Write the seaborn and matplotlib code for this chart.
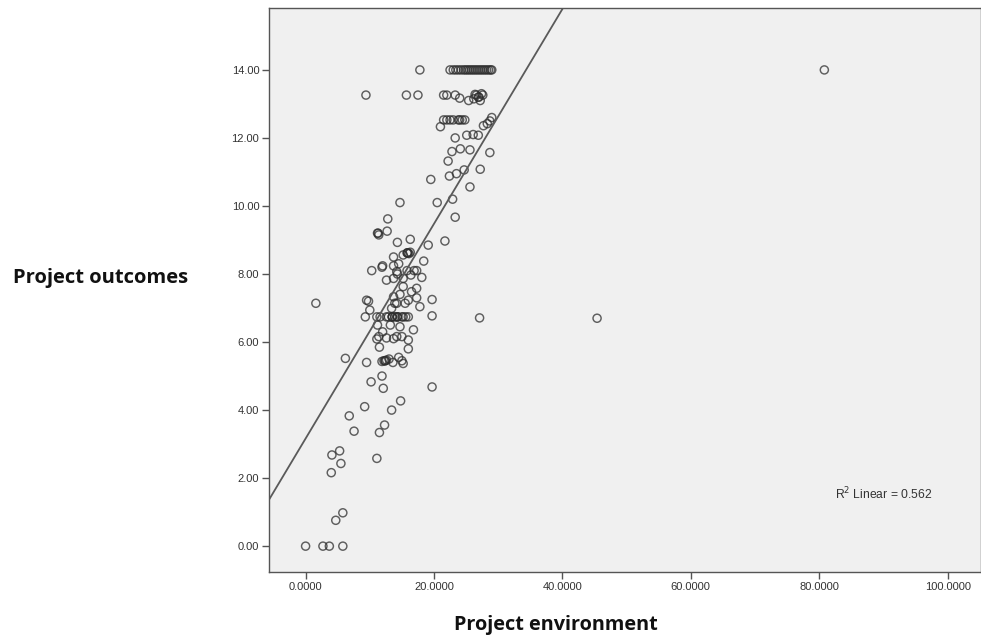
import numpy as np
import pandas as pd
import matplotlib
matplotlib.use("Agg")
import matplotlib.pyplot as plt
import seaborn as sns

# Project environment (x) and project outcomes (y)
# (darker spots in the reference hold overlapping, repeated cases)
env = [
    0.0, 2.7, 3.7, 5.8, 4.7, 5.8, 4.0, 4.1, 5.3, 5.5, 11.1,
    6.8, 7.55, 9.2, 11.5, 12.3, 13.4, 14.8,
    10.2, 11.9, 12.1, 19.7,
    6.2, 9.5, 11.9, 12.6, 13.6, 14.5, 15.2, 12.2, 13.0, 15.0, 12.4, 12.4,
    11.5, 16.0,
    11.1, 12.6, 13.7, 15.0, 16.0, 14.2, 11.4,
    11.2, 13.2, 14.7, 16.8, 12.0,
    9.3, 11.1, 11.6, 12.6, 13.5, 13.9, 14.3, 15.0, 15.2, 16.0, 19.7, 27.1, 45.4,
    13.5, 13.5, 14.3, 14.3, 12.9, 15.6,
    10.0, 13.4, 17.8, 13.9, 14.2, 15.5, 1.6,
    9.8, 9.5, 16.0, 19.7, 13.7, 14.7, 17.3, 16.5,
    15.2, 17.3,
    12.6, 13.7, 15.2, 16.4, 18.1, 14.3,
    10.3, 11.9, 14.2, 15.8, 16.9, 17.3, 12.0, 13.7, 14.5,
    18.4, 13.7, 15.2, 15.8, 16.1, 16.3, 15.9, 15.9,
    19.1, 14.3, 16.3, 21.7,
    11.2, 11.4, 12.7, 11.3,
    12.8, 23.3,
    14.7, 20.5, 22.9,
    25.6,
    19.5, 22.4, 23.5, 24.7, 27.2,
    22.2,
    22.8, 24.1, 25.6, 28.7,
    23.3, 25.1, 26.1, 26.9,
    21.0, 27.7, 28.7, 29.0, 21.5, 22.5, 23.0, 23.8, 24.4, 24.8, 28.3, 22.0, 24.0,
    9.4, 15.7, 17.5, 21.5, 22.0, 23.3, 24.0, 25.4, 26.4, 26.9, 27.4, 27.2, 26.2,
    26.6, 27.0, 27.6,
    17.8, 22.5, 23.4, 24.2, 24.9, 25.5, 26.1, 26.7, 27.3, 27.9, 28.5, 29.0, 80.8,
    23.0, 23.8, 24.6, 25.2, 25.8, 26.4, 27.0, 27.6, 28.2, 28.8,
]
outcomes = [
    0.0, 0.0, 0.0, 0.0, 0.76, 0.98, 2.16, 2.68, 2.8, 2.43, 2.58,
    3.83, 3.38, 4.1, 3.34, 3.56, 4.0, 4.27,
    4.83, 5.0, 4.64, 4.68,
    5.52, 5.4, 5.43, 5.47, 5.4, 5.55, 5.37, 5.45, 5.5, 5.45, 5.45, 5.45,
    5.85, 5.8,
    6.09, 6.12, 6.1, 6.16, 6.06, 6.16, 6.16,
    6.5, 6.5, 6.45, 6.36, 6.3,
    6.74, 6.74, 6.74, 6.74, 6.74, 6.74, 6.74, 6.74, 6.74, 6.74, 6.77, 6.71, 6.7,
    6.74, 6.74, 6.74, 6.74, 6.74, 6.74,
    6.94, 6.99, 7.04, 7.14, 7.14, 7.14, 7.14,
    7.2, 7.23, 7.23, 7.25, 7.33, 7.4, 7.3, 7.48,
    7.63, 7.58,
    7.82, 7.87, 7.87, 7.97, 7.9, 8.0,
    8.1, 8.2, 8.07, 8.1, 8.1, 8.1, 8.24, 8.24, 8.3,
    8.38, 8.5, 8.56, 8.62, 8.6, 8.64, 8.62, 8.62,
    8.85, 8.93, 9.02, 8.97,
    9.2, 9.15, 9.26, 9.2,
    9.62, 9.67,
    10.1, 10.1, 10.2,
    10.56,
    10.78, 10.88, 10.95, 11.06, 11.08,
    11.32,
    11.6, 11.68, 11.65, 11.57,
    12.0, 12.08, 12.1, 12.08,
    12.33, 12.36, 12.5, 12.6, 12.53, 12.53, 12.53, 12.53, 12.53, 12.53, 12.42, 12.53, 12.53,
    13.26, 13.26, 13.26, 13.26, 13.26, 13.26, 13.17, 13.1, 13.28, 13.2, 13.3, 13.1, 13.15,
    13.26, 13.2, 13.26,
    14.0, 14.0, 14.0, 14.0, 14.0, 14.0, 14.0, 14.0, 14.0, 14.0, 14.0, 14.0, 14.0,
    14.0, 14.0, 14.0, 14.0, 14.0, 14.0, 14.0, 14.0, 14.0, 14.0,
]

x_ticks = [0, 20, 40, 60, 80, 100]
y_ticks = [0, 2, 4, 6, 8, 10, 12, 14]
x_label = "Project environment"
y_label = "Project outcomes"
fit_label = r"R$^2$ Linear = 0.562"

df = pd.DataFrame({"env": env, "outcomes": outcomes})

sns.set_style("white")
plt.rcParams["font.family"] = ["Liberation Sans", "DejaVu Sans"]

W, H = 981, 639
fig = plt.figure(figsize=(W / 100, H / 100), dpi=100)
left, right, top, bottom = 269, 981, 8, 572
ax = fig.add_axes([left / W, (H - bottom) / H, (right - left) / W, (bottom - top) / H])
ax.set_facecolor("#f0f0f0")
ax.set_xlim(-5.7, 105.2)
ax.set_ylim(-0.76, 15.82)

sns.regplot(
    data=df, x="env", y="outcomes", ax=ax, ci=None, truncate=False,
    scatter_kws=dict(s=34, facecolors="none", edgecolors="#2e2e2e",
                     linewidths=1.05, alpha=0.75),
    line_kws=dict(color="#5a5a5a", linewidth=1.3),
    marker="o",
)
ax.set_xlim(-5.7, 105.2)
ax.set_ylim(-0.76, 15.82)

ax.set_xticks(x_ticks)
ax.set_xticklabels([f"{v:.4f}" for v in x_ticks])
ax.set_yticks(y_ticks)
ax.set_yticklabels([f"{v:.2f}" for v in y_ticks])
ax.tick_params(axis="both", which="major", direction="out", length=5, width=1,
               color="#555555", labelsize=8, labelcolor="#333333", pad=2,
               bottom=True, left=True)
for sp in ax.spines.values():
    sp.set_color("#555555")
    sp.set_linewidth(1.0)
ax.set_xlabel("")
ax.set_ylabel("")

fig.text(101 / W, (H - 278) / H, y_label, ha="center", va="center",
         fontsize=14.5, fontweight="bold", family=["Open Sans", "DejaVu Sans"], color="#111111")
fig.text(556 / W, (H - 625) / H, x_label, ha="center", va="center",
         fontsize=14.3, fontweight="bold", family=["Open Sans", "DejaVu Sans"], color="#111111")
fig.text(835 / W, (H - 494) / H, fit_label, ha="left", va="center",
         fontsize=8.7, color="#333333")

fig.savefig("out.png", dpi=100, facecolor="white")
